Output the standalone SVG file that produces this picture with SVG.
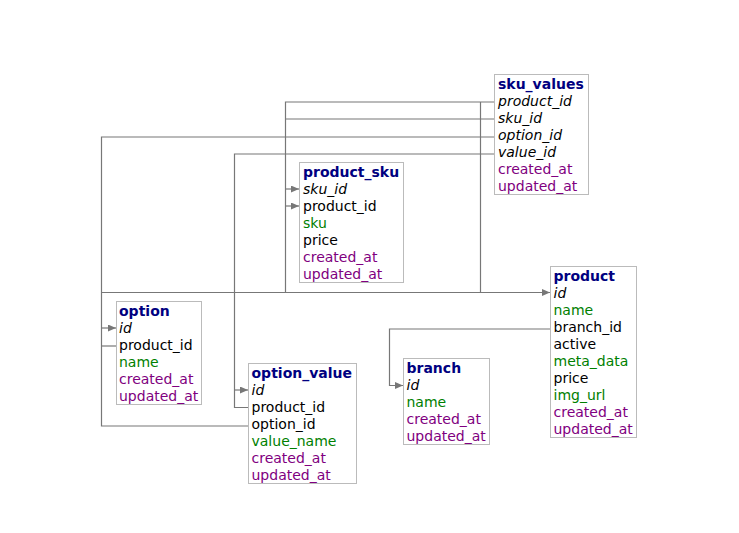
<svg xmlns="http://www.w3.org/2000/svg" width="739" height="533" viewBox="0 0 739 533">
<defs>
<marker id="arr" markerUnits="userSpaceOnUse" markerWidth="9" markerHeight="8" refX="8" refY="3.5" orient="auto">
<path d="M0,0 L8,3.5 L0,7 z" fill="#777"/>
</marker>
</defs>
<style>
text{font-family:"DejaVu Sans","Verdana",sans-serif;font-size:14px;fill:#000}
.t{font-weight:bold;fill:#000080}
.k{font-style:italic}
.g{fill:#008000}
.p{fill:#800080}
.box{fill:#fff;stroke:#bbb;stroke-width:1}
.c{fill:none;stroke:#777;stroke-width:1.2}
</style>
<rect width="739" height="533" fill="#fff"/>
<g id="connectors">
<path class="c" d="M494,102 H285.5 V292"/>
<path class="c" d="M480.5,102 V292"/>
<path class="c" d="M494,119 H285.5"/>
<path class="c" d="M285.5,189 H299" marker-end="url(#arr)"/>
<path class="c" d="M285.5,206 H299" marker-end="url(#arr)"/>
<path class="c" d="M494,137 H101.5 V426 H248"/>
<path class="c" d="M494,154 H234.5 V407.5 H248"/>
<path class="c" d="M234.5,390 H248" marker-end="url(#arr)"/>
<path class="c" d="M101.5,292.5 H550" marker-end="url(#arr)"/>
<path class="c" d="M101.5,328 H116" marker-end="url(#arr)"/>
<path class="c" d="M101.5,346 H116"/>
<path class="c" d="M550,329 H389.5 V385.5 H403" marker-end="url(#arr)"/>
</g>
<g id="sku_values">
<rect class="box" x="494.5" y="74.5" width="94" height="120"/>
<text x="498" y="89" class="t">sku_values</text>
<text x="498" y="106" class="k">product_id</text>
<text x="498" y="123" class="k">sku_id</text>
<text x="498" y="140" class="k">option_id</text>
<text x="498" y="157" class="k">value_id</text>
<text x="498" y="174" class="p">created_at</text>
<text x="498" y="191" class="p">updated_at</text>
</g>
<g id="product_sku">
<rect class="box" x="299.5" y="162.5" width="104" height="120"/>
<text x="303" y="177" class="t">product_sku</text>
<text x="303" y="194" class="k">sku_id</text>
<text x="303" y="211">product_id</text>
<text x="303" y="228" class="g">sku</text>
<text x="303" y="245">price</text>
<text x="303" y="262" class="p">created_at</text>
<text x="303" y="279" class="p">updated_at</text>
</g>
<g id="option">
<rect class="box" x="116.5" y="301.5" width="85" height="103"/>
<text x="119" y="316" class="t">option</text>
<text x="119" y="333" class="k">id</text>
<text x="119" y="350">product_id</text>
<text x="119" y="367" class="g">name</text>
<text x="119" y="384" class="p">created_at</text>
<text x="119" y="401" class="p">updated_at</text>
</g>
<g id="option_value">
<rect class="box" x="248.5" y="363.5" width="108" height="120"/>
<text x="251.5" y="378" class="t">option_value</text>
<text x="251.5" y="395" class="k">id</text>
<text x="251.5" y="412">product_id</text>
<text x="251.5" y="429">option_id</text>
<text x="251.5" y="446" class="g">value_name</text>
<text x="251.5" y="463" class="p">created_at</text>
<text x="251.5" y="480" class="p">updated_at</text>
</g>
<g id="product">
<rect class="box" x="550.5" y="266.5" width="86" height="171"/>
<text x="553.5" y="281" class="t">product</text>
<text x="553.5" y="298" class="k">id</text>
<text x="553.5" y="315" class="g">name</text>
<text x="553.5" y="332">branch_id</text>
<text x="553.5" y="349">active</text>
<text x="553.5" y="366" class="g">meta_data</text>
<text x="553.5" y="383">price</text>
<text x="553.5" y="400" class="g">img_url</text>
<text x="553.5" y="417" class="p">created_at</text>
<text x="553.5" y="434" class="p">updated_at</text>
</g>
<g id="branch">
<rect class="box" x="403.5" y="358.5" width="86" height="86"/>
<text x="406.5" y="373" class="t">branch</text>
<text x="406.5" y="390" class="k">id</text>
<text x="406.5" y="407" class="g">name</text>
<text x="406.5" y="424" class="p">created_at</text>
<text x="406.5" y="441" class="p">updated_at</text>
</g>
</svg>
